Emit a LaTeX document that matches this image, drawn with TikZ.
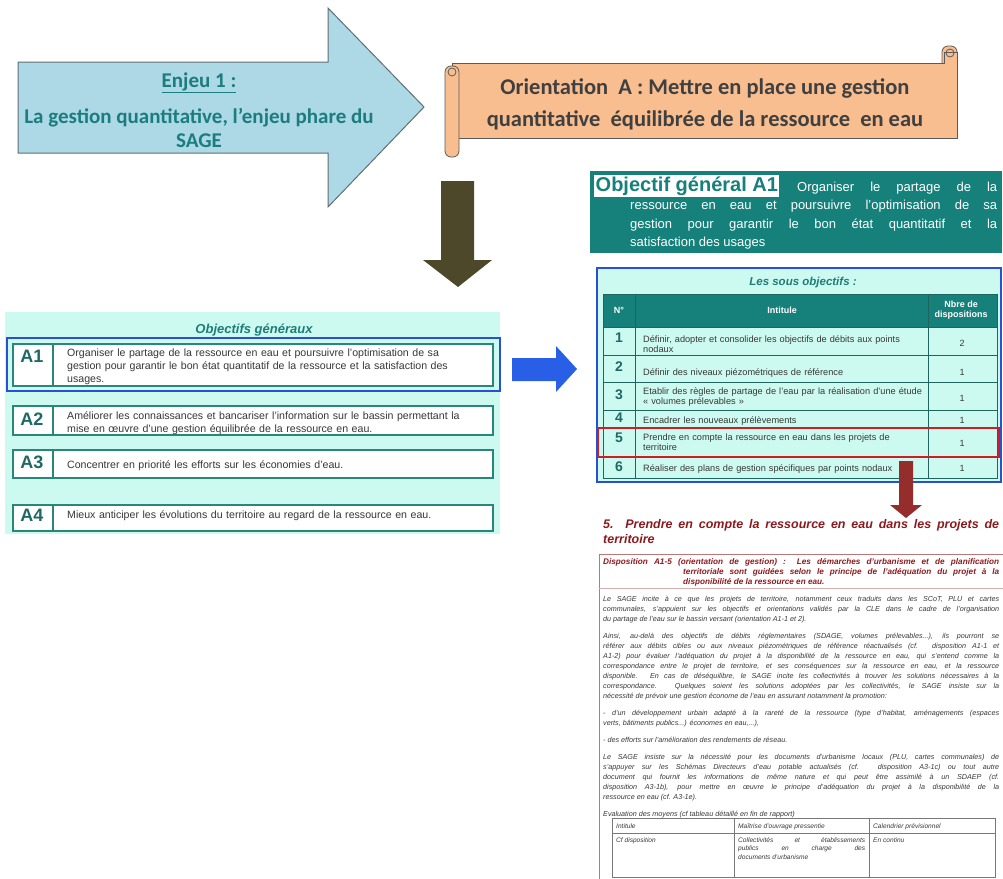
\documentclass[tikz,border=0pt]{standalone}
\usepackage{fontspec}
\setmainfont{Liberation Sans}
\newfontfamily\calibfont{Carlito}
\definecolor{enjeufill}{RGB}{173,216,230}
\definecolor{enjeuedge}{RGB}{95,110,115}
\definecolor{enjeutext}{RGB}{27,125,125}
\definecolor{scrollfill}{RGB}{248,190,143}
\definecolor{scrolledge}{RGB}{90,90,90}
\definecolor{scrolltext}{RGB}{64,64,64}
\definecolor{arrolive}{RGB}{78,72,42}
\definecolor{objteal}{RGB}{22,128,122}
\definecolor{mint}{RGB}{205,250,240}
\definecolor{rowteal}{RGB}{40,135,120}
\definecolor{gridteal}{RGB}{30,100,95}
\definecolor{labteal}{RGB}{30,105,100}
\definecolor{titleteal}{RGB}{30,125,120}
\definecolor{selblue}{RGB}{40,80,215}
\definecolor{arrblue}{RGB}{40,95,230}
\definecolor{selred}{RGB}{205,30,35}
\definecolor{darkred}{RGB}{150,45,45}
\definecolor{headred}{RGB}{140,25,30}
\definecolor{dispedge}{RGB}{185,120,120}
\definecolor{bodygray}{RGB}{55,55,55}
\definecolor{tablegray}{RGB}{120,120,120}
\newcommand{\fsz}[2]{\fontsize{#1}{#2}\selectfont}
\tikzset{
  enjeutxt/.style={font=\calibfont\bfseries\fsz{21}{24},text=enjeutext,align=center},
  scrollbody/.style={fill=scrollfill,draw=scrolledge,line width=0.8pt},
  scrolltxt/.style={font=\calibfont\bfseries\fsz{22.5}{32},text=scrolltext,align=center},
  objlab/.style={anchor=north west,fill=white,text=objteal,inner sep=1.5pt,text height=14.5pt,text depth=4.5pt,font=\bfseries\fsz{20}{20}},
  objtxt/.style={anchor=base west,inner sep=0pt,text width=367pt,align=justify,text=white,font=\fsz{13}{18.5}},
  gentitle/.style={font=\bfseries\itshape\fsz{13}{13},text=titleteal},
  rowbox/.style={draw=rowteal,fill=white,line width=1.2pt},
  rowlab/.style={font=\bfseries\fsz{18}{18},text=labteal},
  rowtxt/.style={anchor=base west,text width=420pt,align=left,inner sep=0pt,font=\fsz{10.6}{13},text=bodygray},
  cellbox/.style={draw=gridteal,fill=mint,line width=0.9pt},
  headbox/.style={draw=gridteal,fill=objteal,line width=0.9pt},
  headtxt/.style={font=\bfseries\fsz{9}{10.5},text=white,align=center},
  numtxt/.style={font=\bfseries\fsz{14}{14},text=labteal},
  celltxt/.style={anchor=base west,text width=282pt,align=left,inner sep=0pt,font=\fsz{9.2}{10},text=bodygray},
  counttxt/.style={font=\fsz{9}{10},text=bodygray},
  headline/.style={anchor=base west,inner sep=0pt,text width=396pt,align=justify,text=headred,font=\bfseries\itshape\fsz{12.5}{15}},
  disphead/.style={anchor=base west,inner sep=0pt,align=justify,text=headred,font=\bfseries\itshape\fsz{8.2}{10}},
  disptxt/.style={anchor=base west,inner sep=0pt,text width=396pt,align=justify,text=bodygray,font=\itshape\fsz{7.2}{10}},
  smalltxt/.style={anchor=base west,inner sep=0pt,text=bodygray,font=\itshape\fsz{6.6}{8.5}}
}
\begin{document}
\begin{tikzpicture}[x=1pt,y=-1pt]
  \useasboundingbox (0,0) rectangle (1003,878);

  \filldraw[fill=enjeufill,draw=enjeuedge,line width=1pt] (18,62) -- (328,62) -- (328,8) -- (424,107) -- (328,207) -- (328,153) -- (18,153) -- cycle;
  \node[enjeutxt] (enjeu) at (199,83) {\underline{Enjeu 1 :}};
  \node[enjeutxt] (phare) at (199,128) {La gestion quantitative, l’enjeu phare du\\SAGE};

  \filldraw[scrollbody,rounded corners=6pt] (942,46) rectangle (957,120);
  \filldraw[scrollbody] (452,63) -- (944,63) -- (944,52) -- (957,52) -- (957,138) -- (452,138) -- cycle;
  \filldraw[scrollbody,rounded corners=6pt] (445,66) rectangle (459,157);
  \draw[scrolledge,line width=0.8pt] (452,72) circle (4);
  \draw[scrolledge,line width=0.8pt] (950,53) circle (4);
  \node[scrolltxt] (orient) at (705,104) {Orientation~ A : Mettre en place une gestion\\quantitative~ équilibrée de la ressource~ en eau};

  \fill[arrolive] (441,181) -- (474,181) -- (474,260) -- (492,260) -- (458,287) -- (423,260) -- (441,260) -- cycle;

  \fill[objteal] (590,171) rectangle (1002,253);
  \node[objlab] (objgen) at (594,175) {Objectif général A1};
  \node[objtxt] (objdef) at (630,191) {\hspace*{167pt}Organiser le partage de la\linebreak ressource en eau et poursuivre l’optimisation de sa\linebreak gestion pour garantir le bon état quantitatif et la\linebreak satisfaction des usages};

  \fill[mint] (5,312) rectangle (500,534);
  \node[gentitle] (gentitle) at (254,330) {Objectifs généraux};
  \draw[rowbox] (13,344) rectangle (493,386); \draw[rowteal,line width=1.2pt] (53,344) -- (53,386);
  \node[rowlab] (a1) at (32,356) {A1};
  \node[rowtxt] (a1txt) at (67,356) {Organiser le partage de la ressource en eau et poursuivre l’optimisation de sa\\gestion pour garantir le bon état quantitatif de la ressource et la satisfaction des\\usages.};
  \draw[rowbox] (13,406) rectangle (493,435); \draw[rowteal,line width=1.2pt] (53,406) -- (53,435);
  \node[rowlab] (a2) at (32,419) {A2};
  \node[rowtxt] (a2txt) at (67,419) {Améliorer les connaissances et bancariser l’information sur le bassin permettant la\\mise en œuvre d’une gestion équilibrée de la ressource en eau.};
  \draw[rowbox] (13,450) rectangle (493,478); \draw[rowteal,line width=1.2pt] (53,450) -- (53,478);
  \node[rowlab] (a3) at (32,462) {A3};
  \node[rowtxt] (a3txt) at (67,468) {Concentrer en priorité les efforts sur les économies d’eau.};
  \draw[rowbox] (13,505) rectangle (493,531); \draw[rowteal,line width=1.2pt] (53,505) -- (53,531);
  \node[rowlab] (a4) at (32,515) {A4};
  \node[rowtxt] (a4txt) at (67,518) {Mieux anticiper les évolutions du territoire au regard de la ressource en eau.};
  \draw[selblue,line width=2pt] (7,338) rectangle (500,391);

  \fill[arrblue] (512,358) -- (556,358) -- (556,346) -- (577,369) -- (556,392) -- (556,381) -- (512,381) -- cycle;

  \fill[mint] (597,268) rectangle (1001,482);
  \node[gentitle,font=\bfseries\itshape\fsz{11.5}{11.5}] (soustitle) at (803,283) {Les sous objectifs :};
  \draw[headbox] (603,294) rectangle (635,327);
  \draw[headbox] (635,294) rectangle (928,327);
  \draw[headbox] (928,294) rectangle (997,327);
  \node[headtxt] (hnum) at (619,310) {N°};
  \node[headtxt] (hint) at (782,310) {Intitule};
  \node[headtxt] (hnb) at (961,310) {Nbre de\\dispositions};
  \draw[cellbox] (603,327) rectangle (997,478);
  \draw[gridteal,line width=0.9pt] (603,355) -- (997,355);
  \draw[gridteal,line width=0.9pt] (603,382) -- (997,382);
  \draw[gridteal,line width=0.9pt] (603,410) -- (997,410);
  \draw[gridteal,line width=0.9pt] (603,428) -- (997,428);
  \draw[gridteal,line width=0.9pt] (603,457) -- (997,457);
  \draw[gridteal,line width=0.9pt] (635,327) -- (635,478);
  \draw[gridteal,line width=0.9pt] (928,327) -- (928,478);
  \node[numtxt] (n1) at (619,338) {1};
  \node[celltxt] (t1) at (643,342) {Définir, adopter et consolider les objectifs de débits aux points\\nodaux};
  \node[counttxt] (c1) at (962,343) {2};
  \node[numtxt] (n2) at (619,367) {2};
  \node[celltxt] (t2) at (643,375) {Définir des niveaux piézométriques de référence};
  \node[counttxt] (c2) at (962,372) {1};
  \node[numtxt] (n3) at (619,395) {3};
  \node[celltxt] (t3) at (643,394) {Etablir des règles de partage de l’eau par la réalisation d’une étude\\« volumes prélevables »};
  \node[counttxt] (c3) at (962,398) {1};
  \node[numtxt] (n4) at (619,418) {4};
  \node[celltxt] (t4) at (643,423) {Encadrer les nouveaux prélèvements};
  \node[counttxt] (c4) at (962,420) {1};
  \node[numtxt] (n5) at (619,438) {5};
  \node[celltxt] (t5) at (643,440) {Prendre en compte la ressource en eau dans les projets de\\territoire};
  \node[counttxt] (c5) at (962,443) {1};
  \node[numtxt] (n6) at (619,467) {6};
  \node[celltxt] (t6) at (643,471) {Réaliser des plans de gestion spécifiques par points nodaux};
  \node[counttxt] (c6) at (962,468) {1};
  \draw[selred,line width=1.5pt] (598,428) rectangle (999,457);
  \draw[selblue,line width=2pt] (597,268) rectangle (1001,482);

  \fill[darkred] (899,461) -- (913,461) -- (913,505) -- (922,505) -- (906,518) -- (890,505) -- (899,505) -- cycle;

  \node[headline] (sub5) at (603,528) {5. Prendre en compte la ressource en eau dans les projets de\linebreak territoire};

  \draw[dispedge,line width=0.8pt] (599,890) -- (599,554) -- (1010,554);
  \draw[dispedge!60,line width=0.6pt] (599,588) -- (1010,588);
  \node[disphead,text width=396pt] (disph) at (603,564) {Disposition A1-5 (orientation de gestion) : Les démarches d’urbanisme et de planification\linebreak};
  \node[disphead,text width=316pt] (disphb) at (683,574) {territoriale sont guidées selon le principe de l’adéquation du projet à la\linebreak disponibilité de la ressource en eau.};
  \node[disptxt] (dispbody) at (603,601) {Le SAGE incite à ce que les projets de territoire, notamment ceux traduits dans les SCoT, PLU et cartes\linebreak communales, s’appuient sur les objectifs et orientations validés par la CLE dans le cadre de l’organisation\linebreak du partage de l’eau sur le bassin versant (orientation A1-1 et 2).\par\vspace{7pt}
    Ainsi, au-delà des objectifs de débits réglementaires (SDAGE, volumes prélevables...), ils pourront se\linebreak référer aux débits cibles ou aux niveaux piézométriques de référence réactualisés (cf. disposition A1-1 et\linebreak A1-2) pour évaluer l’adéquation du projet à la disponibilité de la ressource en eau, qui s’entend comme la\linebreak correspondance entre le projet de territoire, et ses conséquences sur la ressource en eau, et la ressource\linebreak disponible. En cas de déséquilibre, le SAGE incite les collectivités à trouver les solutions nécessaires à la\linebreak correspondance. Quelques soient les solutions adoptées par les collectivités, le SAGE insiste sur la\linebreak nécessité de prévoir une gestion économe de l’eau en assurant notamment la promotion:\par\vspace{7pt}
    - d’un développement urbain adapté à la rareté de la ressource (type d’habitat, aménagements (espaces\linebreak verts, bâtiments publics...) économes en eau,...),\par\vspace{7pt}
    - des efforts sur l’amélioration des rendements de réseau.\par\vspace{7pt}
    Le SAGE insiste sur la nécessité pour les documents d’urbanisme locaux (PLU, cartes communales) de\linebreak s’appuyer sur les Schémas Directeurs d’eau potable actualisés (cf. disposition A3-1c) ou tout autre\linebreak document qui fournit les informations de même nature et qui peut être assimilé à un SDAEP (cf.\linebreak disposition A3-1b), pour mettre en œuvre le principe d’adéquation du projet à la disponibilité de la\linebreak ressource en eau (cf. A3-1e).\par\vspace{7pt}
    Evaluation des moyens (cf tableau détaillé en fin de rapport)};

  \draw[tablegray,line width=0.6pt] (612,818) rectangle (995,877);
  \draw[tablegray,line width=0.6pt] (612,833) -- (995,833);
  \draw[tablegray,line width=0.6pt] (734,818) -- (734,877);
  \draw[tablegray,line width=0.6pt] (869,818) -- (869,877);
  \node[smalltxt] (ev1) at (616,828) {Intitule};
  \node[smalltxt] (ev2) at (738,828) {Maîtrise d’ouvrage pressentie};
  \node[smalltxt] (ev3) at (873,828) {Calendrier prévisionnel};
  \node[smalltxt] (ev4) at (616,842) {Cf disposition};
  \node[smalltxt,text width=127pt,align=justify] (ev5) at (738,842) {Collectivités et établissements\linebreak publics en charge des\linebreak documents d’urbanisme};
  \node[smalltxt] (ev6) at (873,842) {En continu};
\end{tikzpicture}
\end{document}
